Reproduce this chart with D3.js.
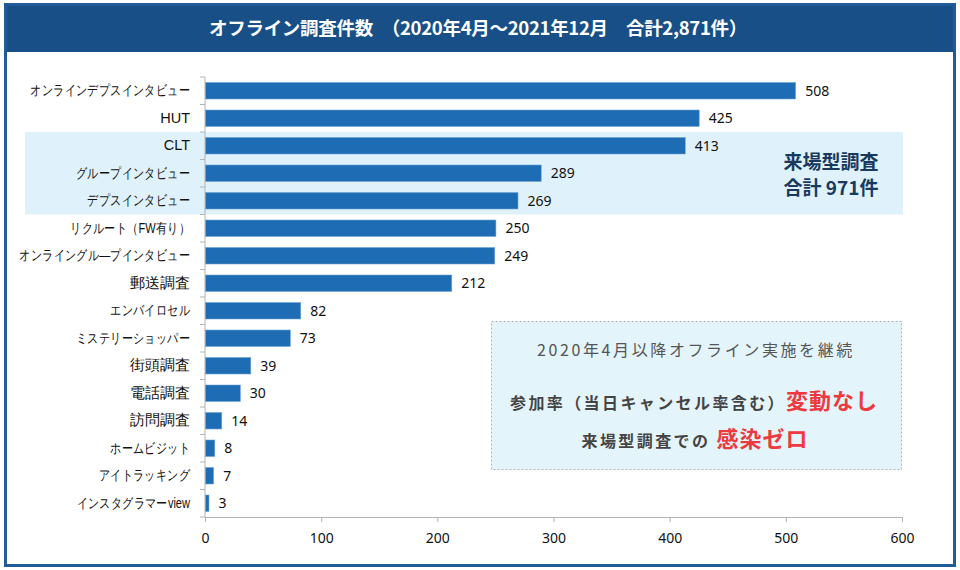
<!DOCTYPE html>
<html>
<head>
<meta charset="utf-8">
<script src="https://cdn.jsdelivr.net/npm/d3@7"></script>
<style>
  html, body { margin: 0; padding: 0; background: #fff; }
  svg { display: block; font-family: "Noto Sans CJK JP", "Noto Sans", sans-serif; }
</style>
</head>
<body>
<svg id="chart"></svg>
<script>
const categories = [
  'オンラインデプスインタビュー', 'HUT', 'CLT', 'グループインタビュー', 'デプスインタビュー',
  'リクルート（FW有り）', 'オンライングル―プインタビュー', '郵送調査', 'エンバイロセル',
  'ミステリーショッパー', '街頭調査', '電話調査', '訪問調査', 'ホームビジット',
  'アイトラッキング', 'インスタグラマーview'
];
const counts = [508, 425, 413, 289, 269, 250, 249, 212, 82, 73, 39, 30, 14, 8, 7, 3];
const xTicks = [0, 100, 200, 300, 400, 500, 600];
const highlighted = ['CLT', 'グループインタビュー', 'デプスインタビュー'];

const width = 960, height = 570;
const margin = { top: 77, right: 58, bottom: 53, left: 205 };

const svg = d3.select('#chart').attr('width', width).attr('height', height);

// frame + title bar
svg.append('rect').attr('x', 0).attr('y', 0).attr('width', width).attr('height', height).attr('fill', '#fff');
svg.append('rect').attr('x', 5).attr('y', 4).attr('width', 950).attr('height', 48).attr('fill', '#174f86');
svg.append('rect').attr('x', 5.5).attr('y', 4.5).attr('width', 949).attr('height', 561)
  .attr('fill', 'none').attr('stroke', '#1f5c99').attr('stroke-width', 3);
svg.append('text')
  .attr('x', 478).attr('y', 35).attr('text-anchor', 'middle')
  .attr('fill', '#fff').attr('font-size', 18.5).attr('font-weight', 'bold')
  .attr('letter-spacing', -0.3)
  .text('オフライン調査件数　（2020年4月～2021年12月　合計2,871件）');

const x = d3.scaleLinear().domain([0, 600]).range([margin.left, width - margin.right]);
const y = d3.scaleBand().domain(categories).range([margin.top, height - margin.bottom]).paddingInner(0.4).paddingOuter(0.2);

// highlight band for on-site surveys
const step = y.step();
const hTop = y(highlighted[0]) - y.paddingInner() * step / 2;
const hBottom = y(highlighted[highlighted.length - 1]) + y.bandwidth() + y.paddingInner() * step / 2;
svg.append('rect')
  .attr('x', 25).attr('y', hTop)
  .attr('width', x(600) - 25 + 1).attr('height', hBottom - hTop)
  .attr('fill', '#dff1fa');

svg.append('text')
  .attr('x', 831).attr('y', (hTop + hBottom) / 2 - 4)
  .attr('text-anchor', 'middle').attr('fill', '#173a5e')
  .attr('font-size', 19).attr('font-weight', 'bold')
  .text('来場型調査');
svg.append('text')
  .attr('x', 831).attr('y', (hTop + hBottom) / 2 + 22)
  .attr('text-anchor', 'middle').attr('fill', '#173a5e')
  .attr('font-size', 19).attr('font-weight', 'bold')
  .text('合計 971件');

// axes
const xAxis = svg.append('g')
  .attr('transform', `translate(0,${height - margin.bottom})`)
  .call(d3.axisBottom(x).tickValues(xTicks).tickSize(5).tickSizeOuter(5));
xAxis.select('.domain').attr('stroke', '#b3b3b3');
xAxis.selectAll('.tick line').attr('stroke', '#b3b3b3');
xAxis.selectAll('.tick text')
  .attr('font-size', 14).attr('fill', '#111').attr('dy', '1.3em')
  .attr('font-family', '"Noto Sans", "DejaVu Sans", sans-serif');

const yAxis = svg.append('g')
  .attr('transform', `translate(${margin.left},0)`)
  .call(d3.axisLeft(y).tickSize(0).tickPadding(15));
yAxis.select('.domain').remove();

// katakana labels are narrow in the original font, so squeeze them a bit
const hasKana = s => /[\u30A0-\u30FF]/.test(s);
const squeeze = 0.79;
yAxis.selectAll('.tick text')
  .attr('fill', '#111')
  .attr('font-size', d => hasKana(d) ? 14 : 14.5)
  .attr('x', d => hasKana(d) ? -15 / squeeze : -15)
  .attr('transform', d => hasKana(d) ? `scale(${squeeze},1)` : null);

// y axis line with boundary ticks
const boundaries = categories.map(c => y(c) - y.paddingInner() * step / 2).concat([height - margin.bottom]);
boundaries[0] = margin.top;
svg.append('line')
  .attr('x1', margin.left).attr('x2', margin.left)
  .attr('y1', margin.top).attr('y2', height - margin.bottom)
  .attr('stroke', '#b3b3b3');
svg.append('g').selectAll('line')
  .data(boundaries)
  .join('line')
  .attr('x1', margin.left - 5).attr('x2', margin.left)
  .attr('y1', d => d).attr('y2', d => d)
  .attr('stroke', '#b3b3b3');

// bars
const rows = categories.map((c, i) => ({ category: c, value: counts[i] }));
svg.append('g').selectAll('rect')
  .data(rows)
  .join('rect')
  .attr('x', x(0) + 0.5)
  .attr('y', d => y(d.category))
  .attr('width', d => x(d.value) - x(0))
  .attr('height', y.bandwidth())
  .attr('fill', '#1e6cb3')
  .attr('stroke', '#6fa6d6').attr('stroke-width', 0.6);

svg.append('g').selectAll('text')
  .data(rows)
  .join('text')
  .attr('x', d => x(d.value) + 10)
  .attr('y', d => y(d.category) + y.bandwidth() / 2)
  .attr('dy', '0.36em')
  .attr('font-size', 14).attr('fill', '#111')
  .attr('font-family', '"Noto Sans", "DejaVu Sans", sans-serif')
  .text(d => d.value);

// annotation box
const box = svg.append('g');
box.append('rect')
  .attr('x', 491.5).attr('y', 321.5).attr('width', 410).attr('height', 148)
  .attr('fill', '#e4f4fb').attr('stroke', '#a8b4bc').attr('stroke-dasharray', '2,2');
box.append('text')
  .attr('x', 696).attr('y', 356).attr('text-anchor', 'middle')
  .attr('font-size', 16).attr('fill', '#555').attr('letter-spacing', 2.6)
  .text('2020年4月以降オフライン実施を継続');
const line2 = box.append('text')
  .attr('x', 694).attr('y', 409).attr('text-anchor', 'middle')
  .attr('font-weight', 'bold');
line2.append('tspan').attr('font-size', 16).attr('fill', '#444').attr('letter-spacing', 2.4).text('参加率（当日キャンセル率含む）');
line2.append('tspan').attr('font-size', 22).attr('fill', '#ee3a3f').attr('letter-spacing', 1).text('変動なし');
const line3 = box.append('text')
  .attr('x', 695).attr('y', 447).attr('text-anchor', 'middle')
  .attr('font-weight', 'bold');
line3.append('tspan').attr('font-size', 16).attr('fill', '#444').attr('letter-spacing', 2.4).text('来場型調査での ');
line3.append('tspan').attr('font-size', 22).attr('fill', '#ee3a3f').attr('letter-spacing', 1).text('感染ゼロ');
</script>
</body>
</html>
